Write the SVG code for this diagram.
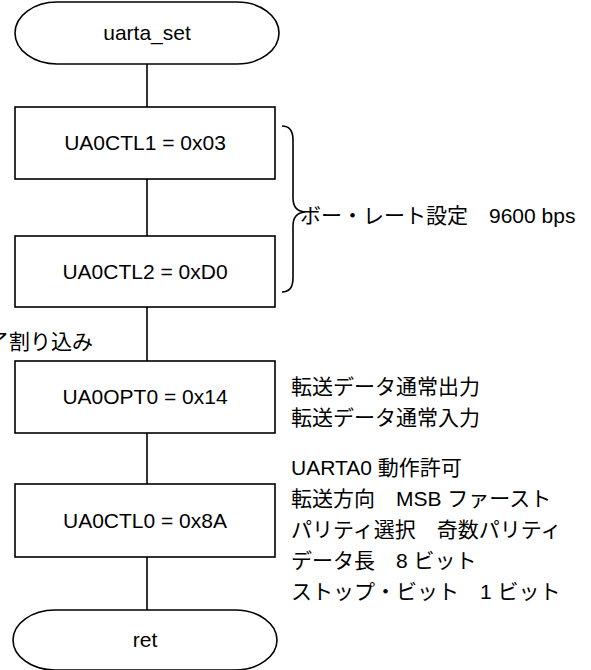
<svg xmlns="http://www.w3.org/2000/svg" width="591" height="670" viewBox="0 0 591 670">
<style>
.s{fill:#fff;stroke:#000;stroke-width:1.6}
.c{fill:none;stroke:#000;stroke-width:1.6}
text{font-family:"Liberation Sans","Noto Sans CJK JP",sans-serif;font-size:21px;fill:#000}
.m{text-anchor:middle}
</style>
<rect width="591" height="670" fill="#fff"/>
<g id="connectors">
<line class="c" x1="147" y1="64" x2="147" y2="107"/>
<line class="c" x1="147" y1="179" x2="147" y2="236"/>
<line class="c" x1="147" y1="307" x2="147" y2="361"/>
<line class="c" x1="147" y1="433" x2="147" y2="484"/>
<line class="c" x1="147" y1="557" x2="147" y2="610"/>
</g>
<g id="start">
<rect class="s" x="15" y="2" width="264" height="62" rx="42" ry="31"/>
<text class="m" x="147" y="40">uarta_set</text>
</g>
<g id="ctl1">
<rect class="s" x="15" y="107" width="260" height="72"/>
<text class="m" x="145" y="150">UA0CTL1 = 0x03</text>
</g>
<g id="ctl2">
<rect class="s" x="15" y="236" width="260" height="71"/>
<text class="m" x="145" y="279">UA0CTL2 = 0xD0</text>
</g>
<g id="brace">
<path class="c" d="M282,126 Q293,126 293,140 L293,198 Q293,211 305,212 Q293,213 293,226 L293,278 Q293,292 282,292"/>
<text x="300" y="223">ボー・レート設定　9600 bps</text>
</g>
<g id="intr">
<text x="93" y="349" text-anchor="end">了割り込み</text>
</g>
<g id="opt0">
<rect class="s" x="15" y="361" width="260" height="72"/>
<text class="m" x="145" y="404">UA0OPT0 = 0x14</text>
<text x="291" y="394">転送データ通常出力</text>
<text x="291" y="425">転送データ通常入力</text>
</g>
<g id="ctl0">
<rect class="s" x="15" y="484" width="260" height="73"/>
<text class="m" x="145" y="528">UA0CTL0 = 0x8A</text>
<text x="291" y="475">UARTA0 動作許可</text>
<text x="291" y="506">転送方向　MSB ファースト</text>
<text x="291" y="537">パリティ選択　奇数パリティ</text>
<text x="291" y="568">データ長　8 ビット</text>
<text x="291" y="599">ストップ・ビット　1 ビット</text>
</g>
<g id="ret">
<rect class="s" x="13" y="610" width="264" height="60" rx="42" ry="30"/>
<text class="m" x="145" y="647">ret</text>
</g>
</svg>
